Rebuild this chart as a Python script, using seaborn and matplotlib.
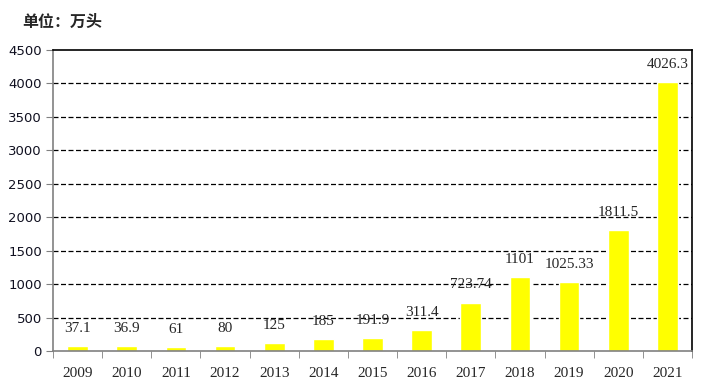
import matplotlib
matplotlib.use('Agg')
import matplotlib.pyplot as plt
import seaborn as sns
import pandas as pd

years = ['2009', '2010', '2011', '2012', '2013', '2014', '2015',
         '2016', '2017', '2018', '2019', '2020', '2021']
heights = [75, 75, 61, 80, 125, 185, 191.9, 311.4, 723.74, 1101, 1025.33, 1811.5, 4026.3]
labels = ['37.1', '36.9', '61', '80', '125', '185', '191.9', '311.4',
          '723.74', '1101', '1025.33', '1811.5', '4026.3']

df = pd.DataFrame({'year': years, 'value': heights})

sns.set_style('white')
plt.rcParams['font.family'] = ['DejaVu Sans']

fig = plt.figure(figsize=(7.14, 3.87), dpi=100)
ax = fig.add_axes([53 / 714, 36 / 387, 639 / 714, 301 / 387])
sns.barplot(data=df, x='year', y='value', color='#ffff00', width=0.42,
            saturation=1, ax=ax)

ax.set_ylim(0, 4500)
ax.set_xlim(-0.5, len(years) - 0.5)
ax.set_yticks(range(0, 4501, 500))
ax.set_xlabel('')
ax.set_ylabel('')

for y in range(500, 4500, 500):
    ax.axhline(y, color='black', lw=0.9, ls=(0, (4, 2)), zorder=0)

for s in ['left', 'bottom']:
    ax.spines[s].set_color('#808080')
for s in ['top', 'right']:
    ax.spines[s].set_color('black')
for s in ax.spines.values():
    s.set_linewidth(1.2)

ax.tick_params(axis='y', left=True, length=5, color='#808080', labelsize=9.5,
               pad=3, labelcolor='#101020')
ax.tick_params(axis='x', bottom=False, labelsize=11, pad=8)
ax.set_xticks([i - 0.5 for i in range(len(years) + 1)], minor=True)
ax.tick_params(axis='x', which='minor', bottom=True, length=5, color='#808080')
for t in ax.get_xticklabels():
    t.set_fontfamily('Liberation Serif')

ax.bar_label(ax.containers[0], labels=labels, padding=8,
             fontsize=11, family='Liberation Serif')

fig.text(22 / 714, 1 - 22 / 387, '单位：万头', fontsize=11.5, fontweight='bold',
         family=['Noto Sans CJK SC', 'DejaVu Sans'], va='center', ha='left')

fig.savefig('out.png', dpi=100)
